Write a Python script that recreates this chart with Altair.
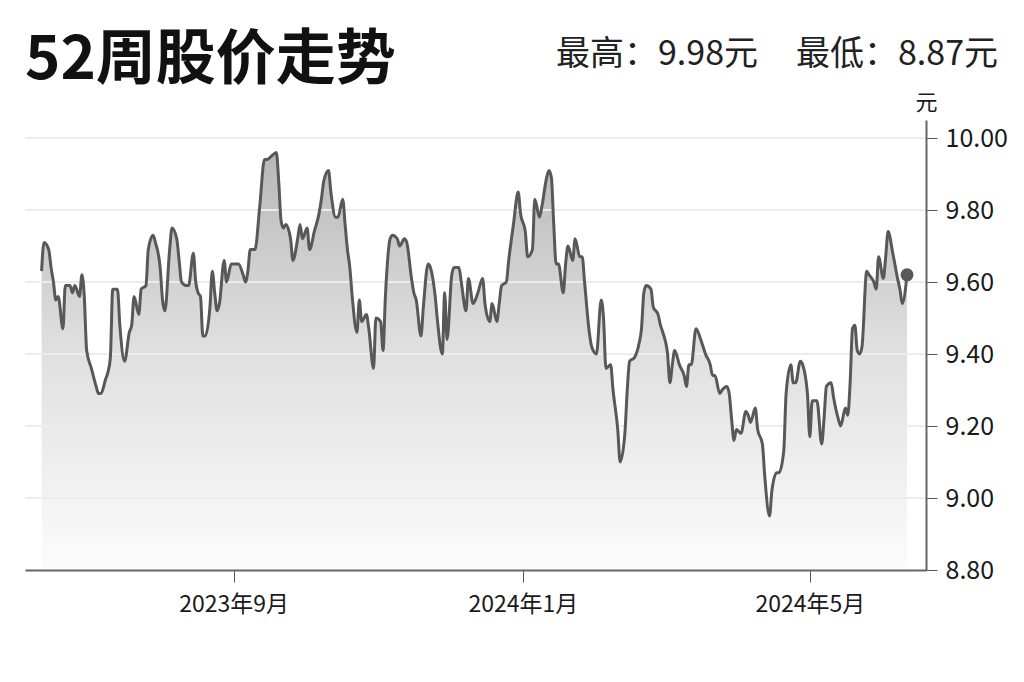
import altair as alt
import pandas as pd

# 52-week share price
FONT = "Noto Sans CJK SC"

start_date = "2023-06-12"
day_offset = [
    0, 1, 3, 4, 5, 6, 7, 9, 10, 12, 13, 14, 16, 17, 18, 19, 21, 23, 24, 25,
    27, 28, 29, 30, 32, 33, 35, 37, 38, 39, 41, 42, 44, 45, 47, 48, 50, 51, 52, 54,
    55, 57, 58, 59, 61, 62, 64, 65, 66, 67, 68, 69, 71, 72, 73, 74, 75, 77, 78, 80,
    82, 83, 85, 86, 87, 88, 90, 92, 94, 95, 97, 99, 100, 101, 102, 103, 105, 106, 108, 109,
    110, 112, 113, 115, 117, 118, 119, 121, 122, 124, 125, 127, 128, 129, 130, 131, 133, 134, 135, 137,
    138, 140, 141, 143, 144, 145, 147, 148, 150, 151, 153, 154, 156, 157, 158, 160, 161, 163, 164, 166,
    167, 169, 170, 171, 173, 174, 176, 177, 179, 180, 182, 184, 186, 187, 189, 190, 192, 193, 194, 196,
    197, 199, 201, 202, 204, 205, 207, 208, 210, 211, 213, 214, 215, 216, 217, 218, 220, 221, 222, 224,
    225, 227, 228, 229, 231, 232, 234, 236, 237, 238, 240, 241, 243, 244, 246, 247, 248, 250, 252, 253,
    254, 255, 257, 258, 260, 261, 262, 264, 265, 266, 267, 269, 271, 272, 273, 274, 276, 278, 279, 280,
    282, 283, 284, 286, 287, 289, 290, 291, 292, 293, 295, 297, 298, 299, 301, 302, 304, 305, 307, 308,
    310, 311, 313, 314, 316, 317, 318, 320, 321, 323, 324, 325, 327, 329, 330, 331, 333, 334, 336, 337,
    339, 340, 341, 342, 343, 344, 345, 346, 348, 349, 351, 352, 353, 355, 356, 357, 359, 361, 362, 363,
    365,
]
price = [
    9.63, 9.71, 9.69, 9.64, 9.60, 9.55, 9.56, 9.47, 9.59, 9.59, 9.57, 9.59, 9.56, 9.62, 9.56, 9.41, 9.36, 9.31, 9.29, 9.29,
    9.33, 9.35, 9.39, 9.58, 9.58, 9.48, 9.38, 9.46, 9.48, 9.56, 9.51, 9.58, 9.59, 9.69, 9.73, 9.71, 9.64, 9.55, 9.52, 9.69,
    9.75, 9.72, 9.66, 9.60, 9.59, 9.59, 9.68, 9.60, 9.57, 9.56, 9.45, 9.45, 9.53, 9.63, 9.57, 9.52, 9.54, 9.66, 9.60, 9.65,
    9.65, 9.65, 9.62, 9.60, 9.63, 9.69, 9.69, 9.81, 9.94, 9.94, 9.95, 9.96, 9.88, 9.77, 9.75, 9.76, 9.72, 9.66, 9.72, 9.76,
    9.72, 9.75, 9.69, 9.74, 9.79, 9.83, 9.88, 9.91, 9.85, 9.78, 9.78, 9.83, 9.76, 9.69, 9.64, 9.56, 9.46, 9.55, 9.49, 9.51,
    9.47, 9.36, 9.50, 9.49, 9.41, 9.56, 9.72, 9.73, 9.72, 9.70, 9.72, 9.71, 9.61, 9.57, 9.55, 9.45, 9.53, 9.65, 9.64, 9.56,
    9.49, 9.40, 9.57, 9.44, 9.62, 9.64, 9.64, 9.60, 9.52, 9.61, 9.54, 9.57, 9.61, 9.54, 9.49, 9.54, 9.49, 9.54, 9.59, 9.60,
    9.66, 9.76, 9.85, 9.79, 9.74, 9.67, 9.69, 9.83, 9.78, 9.81, 9.89, 9.91, 9.89, 9.76, 9.65, 9.65, 9.57, 9.65, 9.70, 9.66,
    9.72, 9.67, 9.67, 9.60, 9.46, 9.42, 9.40, 9.55, 9.50, 9.36, 9.37, 9.30, 9.19, 9.10, 9.18, 9.30, 9.38, 9.39, 9.43, 9.47,
    9.57, 9.59, 9.58, 9.53, 9.51, 9.48, 9.46, 9.40, 9.32, 9.37, 9.41, 9.37, 9.34, 9.31, 9.37, 9.37, 9.47, 9.44, 9.42, 9.40,
    9.37, 9.34, 9.34, 9.29, 9.30, 9.31, 9.29, 9.22, 9.16, 9.19, 9.18, 9.24, 9.23, 9.21, 9.25, 9.19, 9.15, 9.06, 8.95, 9.02,
    9.07, 9.07, 9.13, 9.29, 9.37, 9.32, 9.32, 9.38, 9.37, 9.29, 9.17, 9.27, 9.27, 9.15, 9.22, 9.31, 9.32, 9.28, 9.22, 9.20,
    9.25, 9.23, 9.32, 9.47, 9.48, 9.41, 9.40, 9.42, 9.63, 9.62, 9.60, 9.58, 9.67, 9.61, 9.67, 9.74, 9.68, 9.61, 9.58, 9.54,
    9.62,
]

title_text = "52周股价走势"
high_text = "最高：9.98元"
low_text = "最低：8.87元"
y_unit = "元"
y_ticks = [8.8, 9.0, 9.2, 9.4, 9.6, 9.8, 10.0]
y_floor = 8.8
x_ticks = [(2023, 9), (2024, 1), (2024, 5)]

df = pd.DataFrame({
    "date": pd.Timestamp(start_date) + pd.to_timedelta(day_offset, unit="D"),
    "price": price,
})
last_point = df.tail(1)
grid_df = pd.DataFrame({"v": y_ticks[1:]})

x_enc = alt.X(
    "date:T",
    title=None,
    scale=alt.Scale(domain=[alt.DateTime(year=2023, month=6, date=5),
                            alt.DateTime(year=2024, month=6, date=19)]),
    axis=alt.Axis(
        values=[alt.DateTime(year=y, month=m, date=1) for y, m in x_ticks],
        format="%Y年%-m月", grid=False, zindex=2,
        domainColor="#666666", domainWidth=2,
        tickColor="#555555", tickSize=12, tickWidth=1,
        labelFont=FONT, labelFontSize=23, labelColor="#1a1a1a", labelPadding=11,
    ),
)
y_enc = alt.Y(
    "price:Q",
    scale=alt.Scale(domain=[8.8, 10.05], zero=False, nice=False),
    axis=alt.Axis(
        orient="right", values=y_ticks, format=".2f", grid=False, zindex=2,
        domainColor="#666666", domainWidth=2,
        tickColor="#555555", tickSize=11, tickWidth=1,
        labelFont=FONT, labelFontSize=25, labelColor="#1a1a1a", labelPadding=8,
        title=y_unit, titleAngle=0, titleX=0, titleY=-6, titleAlign="center",
        titleBaseline="bottom", titleFont=FONT, titleFontSize=22,
        titleFontWeight="normal", titleColor="#1a1a1a",
    ),
)

area = alt.Chart(df).mark_area(
    interpolate="monotone",
    fill=alt.Gradient(
        gradient="linear",
        stops=[alt.GradientStop(color="#b8b8b8", offset=0),
               alt.GradientStop(color="#dedede", offset=0.45),
               alt.GradientStop(color="#fcfcfc", offset=1)],
        x1=0, x2=0, y1=0, y2=1,
    ),
).encode(x=x_enc, y=y_enc, y2=alt.datum(y_floor))

grid = alt.Chart(grid_df).mark_rule(color="#ececec", strokeWidth=2).encode(y="v:Q")

line = alt.Chart(df).mark_line(
    interpolate="monotone", color="#585858", strokeWidth=3, strokeJoin="round"
).encode(x="date:T", y="price:Q")

dot = alt.Chart(last_point).mark_circle(size=170, color="#585858", opacity=1).encode(
    x="date:T", y="price:Q"
)

title = alt.Chart(pd.DataFrame({"t": [title_text]})).mark_text(
    align="left", baseline="alphabetic", font=FONT, fontSize=60,
    fontWeight="bold", color="#111111",
).encode(x=alt.value(0), y=alt.value(-41), text="t:N")

high = alt.Chart(pd.DataFrame({"t": [high_text]})).mark_text(
    align="right", baseline="alphabetic", font=FONT, fontSize=34, color="#222222",
).encode(x=alt.value(733), y=alt.value(-55), text="t:N")

low = alt.Chart(pd.DataFrame({"t": [low_text]})).mark_text(
    align="right", baseline="alphabetic", font=FONT, fontSize=34, color="#222222",
).encode(x=alt.value(973), y=alt.value(-55), text="t:N")

chart = (
    alt.layer(area, grid, line, dot, title, high, low)
    .properties(
        width=901, height=450,
        autosize=alt.AutoSizeParams(type="none"),
        padding={"left": 17, "top": 112, "right": 90, "bottom": 100},
        background="white",
    )
    .configure_view(stroke=None)
)

chart.save("out.html", embed_options={"renderer": "svg", "actions": False})
